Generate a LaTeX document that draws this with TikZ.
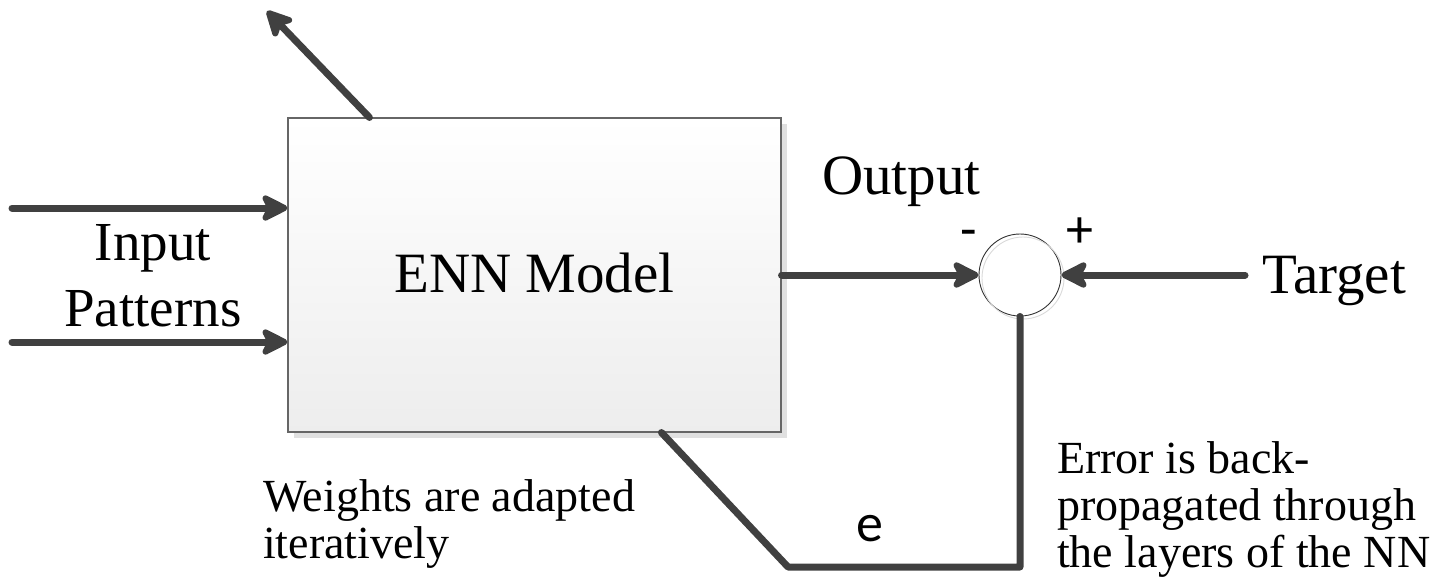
\documentclass[tikz,border=0pt]{standalone}
\usepackage{fontspec}
\setmainfont{Liberation Serif}
\newfontfamily\carlfont{Carlito}
\usetikzlibrary{arrows.meta,shadows}
\definecolor{linegray}{HTML}{404040}
\begin{document}
\begin{tikzpicture}[x=1pt,y=-1pt,
  conn/.style={draw=linegray,line width=7pt,line cap=round,line join=round},
  arr/.style={conn,-{Stealth[length=32pt,width=32pt,inset=8pt,round]}},
  bigtxt/.style={font=\fontsize{57}{60}\selectfont,inner sep=0pt},
  smalltxt/.style={font=\fontsize{46}{47}\selectfont,inner sep=0pt,align=left},
  signtxt/.style={font=\carlfont\fontsize{54}{56}\selectfont,inner sep=0pt}]
\useasboundingbox (0,0) rectangle (1430,579);
% model box
\node[draw=black!60,line width=1.1pt,top color=white,bottom color=black!7,
  minimum width=493pt,minimum height=314pt,inner sep=0pt,
  drop shadow={shadow xshift=6pt,shadow yshift=-6pt,fill=black!12,opacity=1},
  font=\fontsize{57}{60}\selectfont] (enn) at (534.5,275) {\raisebox{4pt}{ENN Model}};
% summing junction
\node[circle,draw=black!80,line width=0.9pt,minimum size=82pt,inner sep=0pt] (sum) at (1020,275) {};
\node[circle,draw=black!15,line width=0.9pt,minimum size=82pt,inner sep=0pt] (sumsh) at (1023,278) {};
% coordinates
\coordinate (in1) at (12,208);
\coordinate (in2) at (12,342);
\coordinate (up) at (267,11);
\coordinate (tgt) at (1245,275);
\coordinate (c1) at (1020,567);
\coordinate (c2) at (788,567);
% connectors
\draw[arr] (in1) -- (in1 -| enn.west);
\draw[arr] (in2) -- (in2 -| enn.west);
\draw[arr] ([xshift=82pt]enn.north west) -- (up);
\draw[arr] (enn.east |- sum.west) -- (sum.west);
\draw[arr] (tgt) -- (sum.east);
\draw[conn] (sum.south) -- (c1) -- (c2) -- ([xshift=374pt]enn.south west);
% labels
\node[bigtxt,align=center,font=\fontsize{55}{66}\selectfont] (inp) at (153,276) {Input\\Patterns};
\node[bigtxt,anchor=base west] (outl) at (822,194) {Output};
\node[bigtxt,anchor=base west] (tgtl) at (1262,293) {Target};
\node[signtxt,anchor=base] (minus) at (969,247) {-};
\node[signtxt,anchor=base] (plus) at (1080,247) {+};
\node[signtxt,anchor=base] (el) at (870,541) {e};
\node[smalltxt,anchor=base west] (wl) at (263,558) {Weights are adapted\\iteratively};
\node[smalltxt,anchor=base west] (errl) at (1057,567) {Error is back-\\propagated through\\the layers of the NN};
\end{tikzpicture}
\end{document}
